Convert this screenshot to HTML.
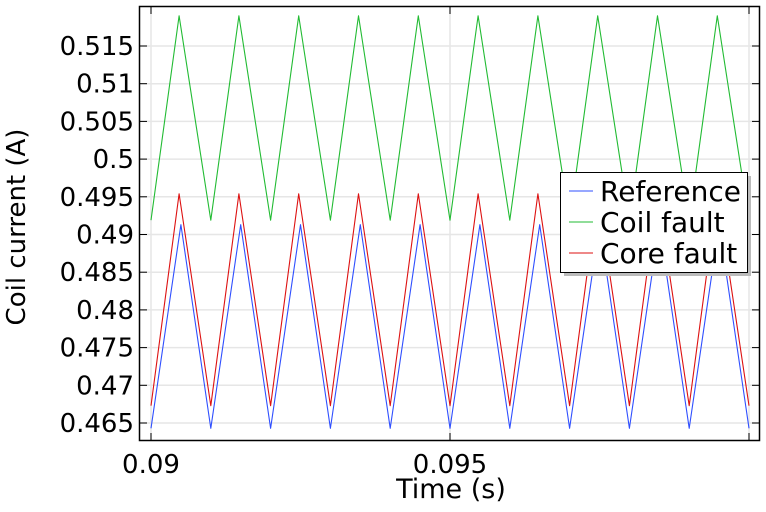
<!DOCTYPE html>
<html><head><meta charset="utf-8"><style>
body{margin:0;background:#fff;font-family:"Liberation Sans","DejaVu Sans",sans-serif}
svg text{font-family:"DejaVu Sans","Liberation Sans",sans-serif;fill:#000}
</style></head><body>
<svg id="chart" width="766" height="507" viewBox="0 0 766 507" xmlns="http://www.w3.org/2000/svg">
<g id="grid"></g>
<g id="series"></g>
<rect x="139.5" y="6.5" width="620" height="434" fill="none" stroke="#000" stroke-width="1.5"/>
<g id="ticks"></g>
<text transform="translate(25,227) rotate(-90)" text-anchor="middle" font-size="26">Coil current (A)</text>
<text x="451" y="498" text-anchor="middle" font-size="27">Time (s)</text>
<g>
<rect x="564" y="176" width="187" height="100" fill="#bbb"/>
<rect x="560.5" y="172.5" width="187" height="100" fill="#fff" stroke="#000" stroke-width="1"/>
<g><line x1="569" y1="191" x2="593" y2="191" stroke="#2f4fff"/><text x="600" y="201" font-size="28">Reference</text></g>
<g><line x1="569" y1="222" x2="593" y2="222" stroke="#22bb33"/><text x="600" y="232" font-size="28">Coil fault</text></g>
<g><line x1="569" y1="253" x2="593" y2="253" stroke="#dd1111"/><text x="600" y="263" font-size="28">Core fault</text></g>
</g>
</svg>
<script>
const times=[0.09,0.09047,0.091,0.09147,0.092,0.09247,0.093,0.09347,0.094,0.09447,0.095,0.09547,0.096,0.09647,0.097,0.09747,0.098,0.09847,0.099,0.09947,0.1];
const timesRef=[0.09,0.0905,0.091,0.0915,0.092,0.0925,0.093,0.0935,0.094,0.0945,0.095,0.0955,0.096,0.0965,0.097,0.0975,0.098,0.0985,0.099,0.0995,0.1];
const refValues=[0.4643,0.4913,0.4643,0.4913,0.4643,0.4913,0.4643,0.4913,0.4643,0.4913,0.4643,0.4913,0.4643,0.4913,0.4643,0.4913,0.4643,0.4913,0.4643,0.4913,0.4643];
const coilValues=[0.4919,0.5190,0.4919,0.5190,0.4919,0.5190,0.4919,0.5190,0.4919,0.5190,0.4919,0.5190,0.4919,0.5190,0.4919,0.5190,0.4919,0.5190,0.4919,0.5190,0.4919];
const coreValues=[0.4673,0.4954,0.4673,0.4954,0.4673,0.4954,0.4673,0.4954,0.4673,0.4954,0.4673,0.4954,0.4673,0.4954,0.4673,0.4954,0.4673,0.4954,0.4673,0.4954,0.4673];
const yTicks=[0.465,0.47,0.475,0.48,0.485,0.49,0.495,0.5,0.505,0.51,0.515];
const yTickLabels=["0.465","0.47","0.475","0.48","0.485","0.49","0.495","0.5","0.505","0.51","0.515"];
const xTicks=[0.09,0.095,0.1];
const xTickLabels=["0.09","0.095",""];
const NS="http://www.w3.org/2000/svg";
function xs(t){return 151+(t-0.09)/0.01*598;}
function ys(v){return 46+(0.515-v)*7540;}
const grid=document.getElementById('grid'),ticks=document.getElementById('ticks'),ser=document.getElementById('series');
function mk(tag,attrs,parent){const e=document.createElementNS(NS,tag);for(const k in attrs)e.setAttribute(k,attrs[k]);parent.appendChild(e);return e;}
yTicks.forEach((v,i)=>{const y=ys(v);
 const g=mk('line',{x1:140,x2:759,y1:y,y2:y,stroke:'#e6e6e6','stroke-width':1.5},grid);
 
 
 const t1=mk('line',{x1:140,x2:147,y1:y,y2:y,stroke:'#000'},ticks);
 
 
 const t2=mk('line',{x1:752,x2:759,y1:y,y2:y,stroke:'#000'},ticks);
 
 
 const l=mk('text',{x:134,y:y+9,'text-anchor':'end','font-size':26},ticks);
 l.textContent=yTickLabels[i];
 
 
});
xTicks.forEach((t,i)=>{const x=xs(t);
 const g=mk('line',{x1:x,x2:x,y1:7,y2:440,stroke:'#e6e6e6','stroke-width':1.5},grid);
 
 
 const tk=mk('line',{x1:x,x2:x,y1:433,y2:440,stroke:'#000'},ticks);
 
 
 const tk2=mk('line',{x1:x,x2:x,y1:7,y2:14,stroke:'#000'},ticks);
 
 
 const l=mk('text',{x:x,y:473,'text-anchor':'middle','font-size':26},ticks);
 l.textContent=xTickLabels[i];
 
 
});
function line(ts,vals,color,name){
 const d=ts.map((t,i)=>(i?'L':'M')+xs(t).toFixed(1)+','+ys(vals[i]).toFixed(1)).join(' ');
 const p=mk('path',{d:d,fill:'none',stroke:color,'stroke-width':1.1,'stroke-linejoin':'round'},ser);
 
 
}
line(times,coilValues,'#22bb33','series-coil-fault');
line(times,coreValues,'#dd1111','series-core-fault');
line(timesRef,refValues,'#2f4fff','series-reference');
</script>
</body></html>
